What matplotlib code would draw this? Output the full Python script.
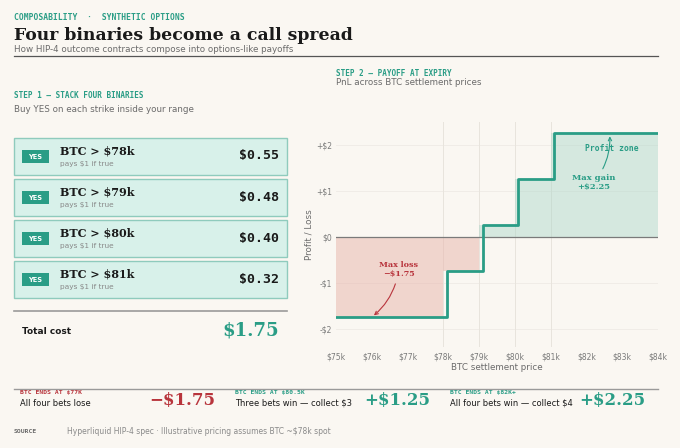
import matplotlib.pyplot as plt
from matplotlib.patches import Rectangle

# data
strikes = [78, 79, 80, 81]
strike_labels = ['BTC > $78k', 'BTC > $79k', 'BTC > $80k', 'BTC > $81k']
prices = ['$0.55', '$0.48', '$0.40', '$0.32']
total_cost = '$1.75'

edges = [75, 78, 79, 80, 81, 84]
pnl = [-1.75, -0.75, 0.25, 1.25, 2.25]
x_ticks = [75, 76, 77, 78, 79, 80, 81, 82, 83, 84]
x_ticklabels = ['$75k', '$76k', '$77k', '$78k', '$79k', '$80k', '$81k', '$82k', '$83k', '$84k']
y_ticks = [-2, -1, 0, 1, 2]
y_ticklabels = ['-$2', '-$1', '$0', '+$1', '+$2']

scen_labels = ['BTC ENDS AT $77K', 'BTC ENDS AT $80.5K', 'BTC ENDS AT $82K+']
scen_text = ['All four bets lose', 'Three bets win — collect $3', 'All four bets win — collect $4']
scen_value = ['−$1.75', '+$1.25', '+$2.25']

BG = '#faf7f2'
TEAL = '#2a9d86'
RED = '#b8343c'
INK = '#1a1a1a'
GREY = '#6b6b6b'

W, H = 680, 448
fig = plt.figure(figsize=(6.8, 4.48), dpi=100, facecolor=BG)


def T(x, y, s, **kw):
    # pixel coords from top-left
    fig.text(x / W, 1 - y / H, s, **kw)


def hline(x0, x1, y, color='#8a8a8a', lw=1.0):
    fig.add_artist(plt.Line2D([x0 / W, x1 / W], [1 - y / H, 1 - y / H], color=color, lw=lw))


# header
T(14, 17, 'COMPOSABILITY  ·  SYNTHETIC OPTIONS', family='DejaVu Sans Mono', weight='bold',
  size=5.8, color=TEAL, va='center')
T(14, 35, 'Four binaries become a call spread', family='DejaVu Serif', weight='bold',
  size=12.4, color=INK, va='center')
T(14, 50, 'How HIP-4 outcome contracts compose into options-like payoffs', size=6.3,
  color=GREY, va='center')
hline(14, 658, 56, color='#555555', lw=0.9)

# step 1
T(14, 96, 'STEP 1 — STACK FOUR BINARIES', family='DejaVu Sans Mono', weight='bold',
  size=5.5, color=TEAL, va='center')
T(14, 109, 'Buy YES on each strike inside your range', size=6.3, color=GREY, va='center')

card_top = 138
card_h = 37
card_gap = 4
for i, (lab, pr) in enumerate(zip(strike_labels, prices)):
    y0 = card_top + i * (card_h + card_gap)
    fig.add_artist(Rectangle((14 / W, 1 - (y0 + card_h) / H), (287 - 14) / W, card_h / H,
                             facecolor='#d8f1ea', edgecolor='#8fcbbd', lw=1.0))
    fig.add_artist(Rectangle((22 / W, 1 - (y0 + 25) / H), 27 / W, 13 / H,
                             facecolor=TEAL, edgecolor='none'))
    T(35.5, y0 + 18.5, 'YES', size=4.8, weight='bold', color='white', ha='center', va='center')
    T(60, y0 + 13, lab, family='DejaVu Serif', weight='bold', size=8, color=INK, va='center')
    T(60, y0 + 26, 'pays $1 if true', size=5.3, color='#888888', va='center')
    T(279, y0 + 18, pr, family='DejaVu Sans Mono', weight='bold', size=9.5, color=INK,
      ha='right', va='center')

hline(14, 287, 311, color='#9a9a9a', lw=1.2)
T(22, 331, 'Total cost', size=6.5, weight='bold', color=INK, va='center')
T(279, 331, total_cost, family='DejaVu Serif', weight='bold', size=13, color=TEAL,
  ha='right', va='center')

# step 2
T(336, 74, 'STEP 2 — PAYOFF AT EXPIRY', family='DejaVu Sans Mono', weight='bold',
  size=5.5, color=TEAL, va='center')
T(336, 82.5, 'PnL across BTC settlement prices', size=6.3, color=GREY, va='center')

ax = fig.add_axes([336 / W, 1 - 347 / H, (658 - 336) / W, (347 - 122) / H])
ax.set_facecolor(BG)
ax.set_xlim(75, 84)
ax.set_ylim(-2.4, 2.5)

for y in [-2, -1, 1, 2]:
    ax.axhline(y, color='#efebe5', lw=0.6, zorder=0)
for s in strikes:
    ax.axvline(s, color='#e8e4dd', lw=0.7, zorder=0)
ax.axhline(0, color='#7a7a7a', lw=0.9, zorder=2)

fill_x = []
fill_y = []
for i, v in enumerate(pnl):
    fill_x += [edges[i], edges[i + 1]]
    fill_y += [v, v]
ax.fill_between(fill_x, fill_y, 0, where=[v < 0 for v in fill_y], color='#e8b4aa',
                alpha=0.5, lw=0, interpolate=False, zorder=1)
ax.fill_between(fill_x, fill_y, 0, where=[v > 0 for v in fill_y], color='#a9d6c9',
                alpha=0.45, lw=0, zorder=1)

line_x = [edges[0]] + [s + 0.1 for s in strikes] + [edges[-1]]
ax.step(line_x, pnl + [pnl[-1]], where='post', color=TEAL, lw=2.0, zorder=3)

ax.annotate('Max loss\n−$1.75', xy=(76.0, -1.75), xytext=(76.75, -0.72),
            ha='center', va='center', family='DejaVu Serif', weight='bold', size=5.8,
            color=RED, arrowprops=dict(arrowstyle='->', color=RED, lw=0.8,
                                       connectionstyle='arc3,rad=-0.2'))
ax.annotate('Max gain\n+$2.25', xy=(82.65, 2.25), xytext=(82.2, 1.18),
            ha='center', va='center', family='DejaVu Serif', weight='bold', size=6,
            color=TEAL, arrowprops=dict(arrowstyle='->', color=TEAL, lw=0.8,
                                        connectionstyle='arc3,rad=0.2'))
ax.text(82.7, 1.92, 'Profit zone', family='DejaVu Sans Mono', weight='bold', size=5.8,
        color=TEAL, ha='center', va='center')

ax.set_xticks(x_ticks)
ax.set_xticklabels(x_ticklabels)
ax.set_yticks(y_ticks)
ax.set_yticklabels(y_ticklabels)
ax.tick_params(length=0, labelsize=5.5, labelcolor='#7a7a7a')
ax.tick_params(axis='x', pad=4)
ax.tick_params(axis='y', pad=3)
for sp in ax.spines.values():
    sp.set_visible(False)
ax.set_xlabel('BTC settlement price', size=6.3, color=GREY, labelpad=1)
ax.set_ylabel('Profit / Loss', size=6.3, color=GREY, labelpad=2)

# scenarios
hline(14, 658, 389, color='#9a9a9a', lw=1.0)
cols = [20, 235, 450]
for i in range(3):
    c = RED if i == 0 else TEAL
    T(cols[i], 392, scen_labels[i], family='DejaVu Sans Mono', weight='bold', size=4.6,
      color=c, va='center')
    T(cols[i], 403, scen_text[i], size=6.0, color=INK, va='center')
    T(cols[i] + 195, 400, scen_value[i], family='DejaVu Serif', weight='bold', size=12,
      color=c, ha='right', va='center')

T(14, 431, 'SOURCE', family='DejaVu Sans Mono', weight='bold', size=4.6, color=GREY, va='center')
T(67, 431, 'Hyperliquid HIP-4 spec · Illustrative pricing assumes BTC ~$78k spot', size=5.5,
  color='#8a8a8a', va='center')

fig.savefig('out.png', dpi=100, facecolor=BG)
